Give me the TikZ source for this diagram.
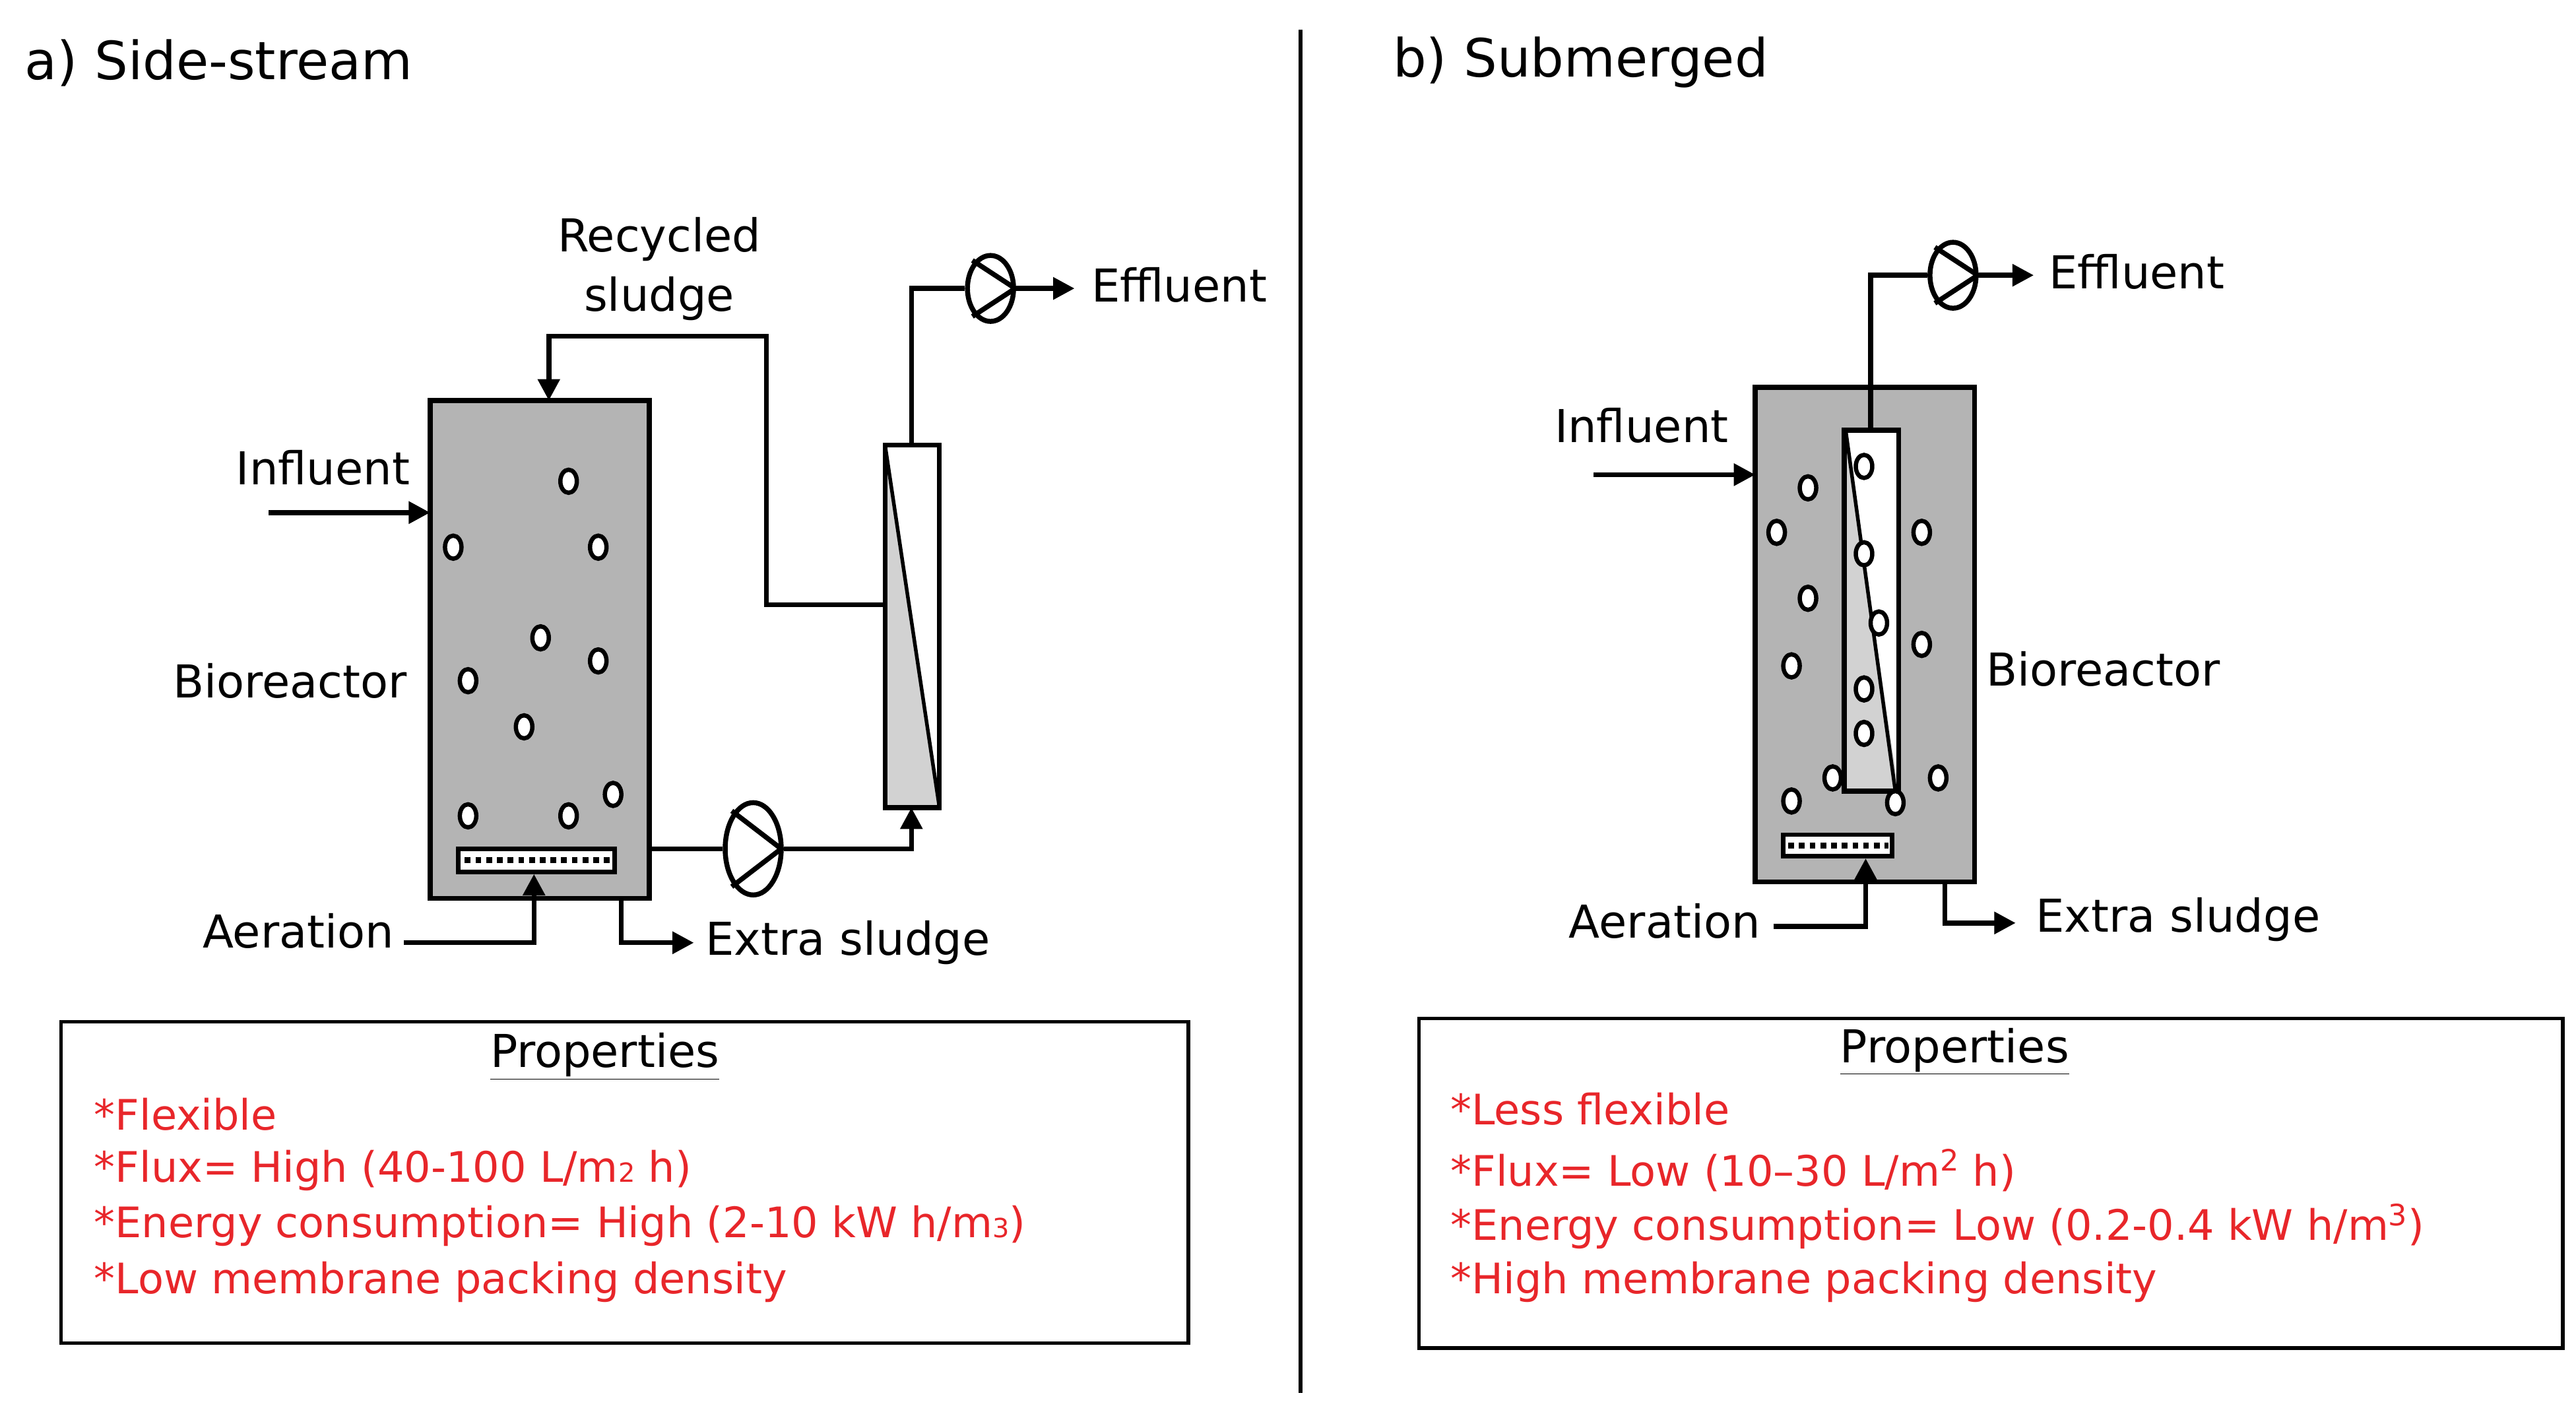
\documentclass[tikz,border=0pt]{standalone}
\usepackage{fontspec}
\setmainfont{DejaVu Sans}
\usetikzlibrary{arrows.meta,shapes.geometric}
\definecolor{reactor}{HTML}{B4B4B4}
\definecolor{memb}{HTML}{D2D2D2}
\definecolor{redtxt}{HTML}{E8262A}
\begin{document}
\begin{tikzpicture}[x=1pt,y=-1pt,
  ln/.style={line width=3pt,black},
  arr/.style={ln,-{Triangle[length=13pt,width=13pt]}},
  lbl/.style={font=\fontsize{27.5}{36}\selectfont,inner sep=0pt},
  ttl/.style={font=\fontsize{32}{36}\selectfont,inner sep=0pt,anchor=west},
  red/.style={font=\fontsize{25.5}{30}\selectfont,text=redtxt,inner sep=0pt,anchor=west},
  bub/.style={draw=black,line width=2.6pt,fill=white,ellipse,minimum width=10pt,minimum height=14pt,inner sep=0pt},
  pump/.style={draw=black,line width=3pt,ellipse,fill=white,inner sep=0pt},
  box/.style={draw=black,line width=2.2pt}]
\useasboundingbox (0,0) rectangle (1563,860);
\fill[white] (0,0) rectangle (1563,860);
\draw[line width=2.5pt] (789,18) -- (789,845);

% ---------- a) side-stream
\node[ttl] (ta) at (15,38) {a) Side-stream};
\draw[ln,fill=reactor] (261,243) rectangle (394,545);
\node[draw=black,line width=2.6pt,fill=white,minimum width=95pt,minimum height=14pt,inner sep=0pt] (da) at (325.5,522) {};
\draw[line width=3.5pt,dash pattern=on 3.5pt off 3pt] (282,522) -- (370,522);
\foreach \x/\y in {345/292,275/332,363/332,328/387,363/401,284/413,318/441,284/495,345/495,372/482}
  \node[bub] at (\x,\y) {};
% membrane
\fill[white] (537,270) rectangle (570,490);
\fill[memb] (537,270) -- (537,490) -- (570,490) -- cycle;
\draw[ln] (537,270) rectangle (570,490);
\draw[line width=2.2pt] (537,270) -- (570,490);
\coordinate (mta) at (553,270);
\coordinate (mba) at (553,490);
\coordinate (mla) at (537,367);
% influent
\coordinate (ia) at (163,311);
\coordinate (ra) at (261,311);
\draw[arr] (ia) -- (ra);
\node[lbl] (il) at (196,284) {Influent};
\node[lbl] (bl) at (176,413) {Bioreactor};
\node[lbl,align=center] (rl) at (400,163) {Recycled\\sludge};
\coordinate (rt) at (333,243);
\draw[arr] (mla) -- (465,367) -- (465,204) -- (333,204) -- (rt);
% effluent
\node[pump,minimum width=28pt,minimum height=40pt] (pa1) at (601,175) {};
\draw[line width=3pt] (590,158) -- (616,175) -- (590,192);
\draw[ln] (mta) -- (553,175) -- (pa1.west);
\coordinate (ea) at (652,175);
\draw[arr] (pa1.east) -- (ea);
\node[lbl,anchor=west] (el) at (662,173) {Effluent};
% pump bottom
\node[pump,minimum width=34pt,minimum height=56pt] (pa2) at (457,515) {};
\draw[line width=3pt] (444,492) -- (474,515) -- (444,538);
\draw[ln] (394,515) -- (pa2.west);
\draw[arr] (pa2.east) -- (553,515) -- (mba);
% aeration
\node[lbl] (al) at (181,565) {Aeration};
\draw[arr] (245,572) -- (324,572) -- (da.south -| 324,0);
% extra sludge
\coordinate (xa) at (421,572);
\draw[arr] (377,545) -- (377,572) -- (xa);
\node[lbl,anchor=west] (xl) at (428,572) {Extra sludge};
% properties
\draw[box] (37,620) rectangle (721,815);
\node[lbl] (pl) at (367,641) {\underline{Properties}};
\node[red] at (57,676) {*Flexible};
\node[red] at (57,710) {*Flux= High (40-100 L/m{\fontsize{16}{16}\selectfont 2} h)};
\node[red] at (57,744) {*Energy consumption= High (2-10 kW h/m{\fontsize{16}{16}\selectfont 3})};
\node[red] at (57,778) {*Low membrane packing density};

% ---------- b) submerged
\node[ttl] (tb) at (845,38) {b) Submerged};
\draw[ln,fill=reactor] (1065,235) rectangle (1198,535);
\fill[white] (1119,261) rectangle (1152,480);
\fill[memb] (1119,261) -- (1119,480) -- (1152,480) -- cycle;
\draw[ln] (1119,261) rectangle (1152,480);
\draw[line width=2.2pt] (1120,262) -- (1150,480);
\node[draw=black,line width=2.6pt,fill=white,minimum width=66pt,minimum height=13pt,inner sep=0pt] (db) at (1115,513) {};
\draw[line width=3.5pt,dash pattern=on 3.5pt off 3pt] (1085,513) -- (1146,513);
\foreach \x/\y in {1097/296,1078/323,1097/363,1087/404,1131/283,1131/336,1140/378,1131/418,1131/445,1112/472,1087/486,1150/487,1166/323,1166/391,1176/472}
  \node[bub] at (\x,\y) {};
\coordinate (mtb) at (1135,261);
\node[pump,minimum width=28pt,minimum height=40pt] (pb) at (1185,167) {};
\draw[line width=3pt] (1174,150) -- (1200,167) -- (1174,184);
\draw[ln] (mtb) -- (1135,167) -- (pb.west);
\coordinate (eb) at (1234,167);
\draw[arr] (pb.east) -- (eb);
\node[lbl,anchor=west] (elb) at (1243,165) {Effluent};
\node[lbl] (ilb) at (996,258) {Influent};
\coordinate (ib) at (967,288);
\coordinate (rb) at (1065,288);
\draw[arr] (ib) -- (rb);
\node[lbl,anchor=west] (blb) at (1205,406) {Bioreactor};
\node[lbl] (alb) at (1010,559) {Aeration};
\draw[arr] (1076,562) -- (1132,562) -- (db.south -| 1132,0);
\coordinate (xb) at (1223,560);
\draw[arr] (1180,535) -- (1180,560) -- (xb);
\node[lbl,anchor=west] (xlb) at (1235,558) {Extra sludge};
\draw[box] (861,618) rectangle (1555,818);
\node[lbl] (plb) at (1186,638) {\underline{Properties}};
\node[red] at (880,673) {*Less flexible};
\node[red] at (880,710) {*Flux= Low (10–30 L/m\textsuperscript{2} h)};
\node[red] at (880,744) {*Energy consumption= Low (0.2-0.4 kW h/m\textsuperscript{3})};
\node[red] at (880,778) {*High membrane packing density};
\end{tikzpicture}
\end{document}
